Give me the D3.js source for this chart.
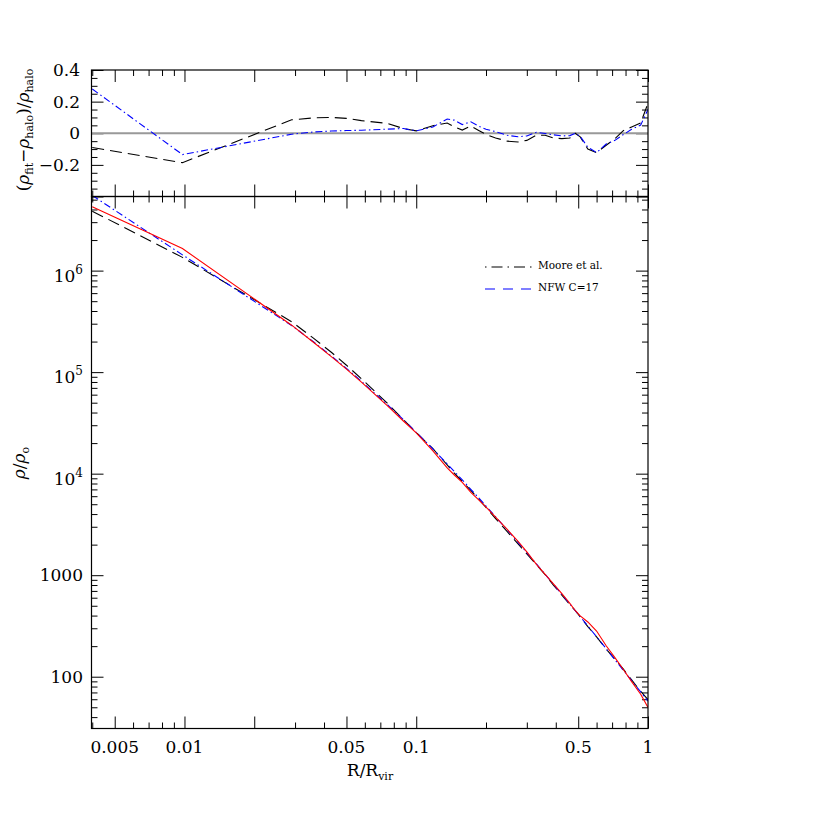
<!DOCTYPE html>
<html><head><meta charset="utf-8">
<script src="https://cdn.jsdelivr.net/npm/d3@7"></script>
<style>body{margin:0;background:#fff}svg{display:block}</style>
</head><body><svg id="c" width="830" height="830"></svg>
<script>
// ---- data ----
const radius   = [0.004, 0.0098, 0.029, 0.036, 0.043, 0.05, 0.058, 0.075, 0.088, 0.1, 0.118, 0.136, 0.146, 0.158, 0.172, 0.186, 0.2, 0.22, 0.247, 0.275, 0.3, 0.33, 0.36, 0.39, 0.425, 0.46, 0.485, 0.51, 0.55, 0.6, 0.66, 0.72, 0.78, 0.85, 0.93, 1.0];
const rhoHalo  = [4.25e6, 1.65e6, 2.90e5, 1.97e5, 1.42e5, 1.07e5, 7.98e4, 4.67e4, 3.30e4, 2.52e4, 1.68e4, 1.14e4, 9.70e3, 8.21e3, 6.55e3, 5.53e3, 4.69e3, 3.73e3, 2.82e3, 2.15e3, 1.70e3, 1.28e3, 1.02e3, 828, 658, 528, 449, 398, 346, 282, 202, 154, 119, 89.4, 67.3, 49.9];
const rhoNFW   = [5.5e6, 1.43e6, 2.88e5, 1.99e5, 1.44e5, 1.09e5, 8.13e4, 4.79e4, 3.40e4, 2.55e4, 1.75e4, 1.25e4, 1.05e4, 8.67e3, 7.02e3, 5.77e3, 4.80e3, 3.76e3, 2.79e3, 2.10e3, 1.67e3, 1.29e3, 1.02e3, 819, 647, 520, 449, 390, 316, 247, 189, 147, 117, 91.7, 70.8, 57.4];
const rhoMoore = [3.85e6, 1.35e6, 3.14e5, 2.16e5, 1.57e5, 1.17e5, 8.61e4, 4.95e4, 3.40e4, 2.55e4, 1.76e4, 1.22e4, 1.01e4, 8.38e3, 6.85e3, 5.62e3, 4.65e3, 3.61e3, 2.68e3, 2.03e3, 1.62e3, 1.27e3, 1.01e3, 803, 636, 512, 449, 389, 312, 247, 187, 149, 120, 93.0, 71.6, 59.4];
const resMoore = [-0.09, -0.186, 0.085, 0.097, 0.1, 0.094, 0.08, 0.062, 0.03, 0.015, 0.048, 0.065, 0.04, 0.02, 0.046, 0.018, -0.008, -0.03, -0.05, -0.055, -0.045, -0.012, -0.013, -0.03, -0.034, -0.03, 0.0, -0.023, -0.1, -0.123, -0.076, -0.035, 0.015, 0.04, 0.065, 0.19];
const resNFW   = [0.28, -0.135, -0.006, 0.008, 0.014, 0.017, 0.019, 0.026, 0.03, 0.015, 0.04, 0.09, 0.083, 0.055, 0.072, 0.045, 0.025, 0.01, -0.013, -0.022, -0.017, 0.006, -0.002, -0.01, -0.017, -0.015, 0.0, -0.02, -0.088, -0.122, -0.068, -0.045, -0.01, 0.025, 0.052, 0.15];

const xDomain = [0.00397, 1];
const resDomain = [-0.4, 0.4];
const rhoDomain = [30.9, 5.37e6];
const xLabelValues = [0.005, 0.01, 0.05, 0.1, 0.5, 1];
const xLabels = ["0.005", "0.01", "0.05", "0.1", "0.5", "1"];
const xMajor = [0.005, 0.01, 0.02, 0.05, 0.1, 0.5, 1];
const resLabelValues = [0.4, 0.2, 0, -0.2];
const resLabels = ["0.4", "0.2", "0", "\u22120.2"];
const rhoLabelValues = [1e6, 1e5, 1e4, 1000, 100];
const rhoLabels = [["10","6"], ["10","5"], ["10","4"], ["1000",""], ["100",""]];
const legendNames = ["Moore et al.", "NFW C=17"];

// ---- layout ----
const L = 91.5, R = 648, T = 70, M = 196.5, B = 728.5;
const FONT = "'DejaVu Serif', serif";
const svg = d3.select("#c");
svg.append("rect").attr("width", 830).attr("height", 830).attr("fill", "#fff");

const x = d3.scaleLog().domain(xDomain).range([L, R]);
const yRes = d3.scaleLinear().domain(resDomain).range([M, T]);
const yRho = d3.scaleLog().domain(rhoDomain).range([B, M]);

const allX = x.ticks().filter(v => v >= xDomain[0] && v <= 1.0001);
const xMinor = allX.filter(v => !xMajor.some(m => Math.abs(m - v) / m < 1e-6));
const resAll = d3.range(-8, 9).map(i => i * 0.05);
const resMaj = [-0.4, -0.2, 0, 0.2, 0.4];
const resMin = resAll.filter(v => !resMaj.some(m => Math.abs(m - v) < 1e-6));
const rhoAll = yRho.ticks();
const rhoMaj = rhoAll.filter(v => Math.abs(Math.log10(v) - Math.round(Math.log10(v))) < 1e-6);
const rhoMin = rhoAll.filter(v => !rhoMaj.includes(v));

function tickG(axisFn, scale, vals, len, tx, ty) {
  const g = svg.append("g").attr("transform", `translate(${tx},${ty})`)
    .call(axisFn(scale).tickValues(vals).tickSize(-len).tickFormat(""));
  g.select(".domain").remove();
  g.selectAll("line").attr("stroke", "#000").attr("stroke-width", 1);
}
[[d3.axisTop, T], [d3.axisBottom, M], [d3.axisTop, M], [d3.axisBottom, B]].forEach(([fn, yy]) => {
  tickG(fn, x, xMajor, 12, 0, yy);
  tickG(fn, x, xMinor, 6, 0, yy);
});
tickG(d3.axisLeft, yRes, resMaj, 12, L, 0);
tickG(d3.axisLeft, yRes, resMin, 6, L, 0);
tickG(d3.axisRight, yRes, resMaj, 12, R, 0);
tickG(d3.axisRight, yRes, resMin, 6, R, 0);
tickG(d3.axisLeft, yRho, rhoMaj, 12, L, 0);
tickG(d3.axisLeft, yRho, rhoMin, 6, L, 0);
tickG(d3.axisRight, yRho, rhoMaj, 12, R, 0);
tickG(d3.axisRight, yRho, rhoMin, 6, R, 0);

const defs = svg.append("defs");
defs.append("clipPath").attr("id", "clipTop").append("rect").attr("x", L).attr("y", T).attr("width", R - L).attr("height", M - T);
defs.append("clipPath").attr("id", "clipBot").append("rect").attr("x", L).attr("y", M).attr("width", R - L).attr("height", B - M);

svg.append("line").attr("x1", L).attr("x2", R).attr("y1", yRes(0)).attr("y2", yRes(0))
  .attr("stroke", "#999").attr("stroke-width", 2);

const dashBlack = "12,6";
const dashBlue = "7,3,1.5,3";

function drawLine(clip, ys, scaleY, color, dash) {
  const line = d3.line().x((d, i) => x(radius[i])).y(d => scaleY(d));
  svg.append("path").attr("clip-path", `url(#${clip})`).datum(ys)
    .attr("d", line).attr("fill", "none").attr("stroke", color).attr("stroke-width", 1.1)
    .attr("stroke-dasharray", dash || null);
}
drawLine("clipTop", resMoore, yRes, "#000", dashBlack);
drawLine("clipTop", resNFW, yRes, "#0000ff", dashBlue);
drawLine("clipBot", rhoMoore, yRho, "#000", dashBlack);
drawLine("clipBot", rhoNFW, yRho, "#0000ff", dashBlue);
drawLine("clipBot", rhoHalo, yRho, "#ff0000", null);

svg.append("rect").attr("x", L).attr("y", T).attr("width", R - L).attr("height", M - T)
  .attr("fill", "none").attr("stroke", "#000").attr("stroke-width", 1.2);
svg.append("rect").attr("x", L).attr("y", M).attr("width", R - L).attr("height", B - M)
  .attr("fill", "none").attr("stroke", "#000").attr("stroke-width", 1.2);

const fs = 17;
xLabelValues.forEach((v, i) => {
  svg.append("text").attr("x", x(v)).attr("y", 753).attr("text-anchor", "middle")
    .attr("font-family", FONT).attr("font-size", fs).text(xLabels[i]);
});
resLabelValues.forEach((v, i) => {
  svg.append("text").attr("x", 80).attr("y", yRes(v) + 6).attr("text-anchor", "end")
    .attr("font-family", FONT).attr("font-size", fs).text(resLabels[i]);
});
rhoLabelValues.forEach((v, i) => {
  const [base, exp] = rhoLabels[i];
  const t = svg.append("text").attr("x", 83).attr("y", yRho(v) + (exp ? 11 : 6)).attr("text-anchor", "end")
    .attr("font-family", FONT).attr("font-size", fs);
  t.append("tspan").text(base);
  if (exp) t.append("tspan").attr("font-size", 12).attr("dy", -8).text(exp);
});

const xt = svg.append("text").attr("x", 370).attr("y", 776).attr("text-anchor", "middle")
  .attr("font-family", FONT).attr("font-size", fs);
xt.append("tspan").text("R/R");
xt.append("tspan").attr("font-size", 11).attr("dy", 4).text("vir");

const yt1 = svg.append("text").attr("transform", "translate(29,130) rotate(-90)").attr("text-anchor", "middle")
  .attr("font-family", FONT).attr("font-size", fs);
yt1.append("tspan").text("(");
yt1.append("tspan").attr("font-style", "italic").text("\u03C1");
yt1.append("tspan").attr("font-size", 11).attr("dy", 4).text("fit");
yt1.append("tspan").attr("dy", -4).text("\u2212");
yt1.append("tspan").attr("font-style", "italic").text("\u03C1");
yt1.append("tspan").attr("font-size", 11).attr("dy", 4).text("halo");
yt1.append("tspan").attr("dy", -4).text(")/");
yt1.append("tspan").attr("font-style", "italic").text("\u03C1");
yt1.append("tspan").attr("font-size", 11).attr("dy", 4).text("halo");

const yt2 = svg.append("text").attr("transform", "translate(25,463) rotate(-90)").attr("text-anchor", "middle")
  .attr("font-family", FONT).attr("font-size", fs);
yt2.append("tspan").attr("font-style", "italic").text("\u03C1");
yt2.append("tspan").text("/");
yt2.append("tspan").attr("font-style", "italic").text("\u03C1");
yt2.append("tspan").attr("font-size", 11).attr("dy", 4).text("o");

const legY = [267, 289];
svg.append("line").attr("x1", 485).attr("x2", 533).attr("y1", legY[0]).attr("y2", legY[0])
  .attr("stroke", "#000").attr("stroke-width", 1.1).attr("stroke-dasharray", "1.5,5,11,5");
svg.append("line").attr("x1", 485).attr("x2", 533).attr("y1", legY[1]).attr("y2", legY[1])
  .attr("stroke", "#0000ff").attr("stroke-width", 1.1).attr("stroke-dasharray", "10,8");
legendNames.forEach((n, i) => {
  svg.append("text").attr("x", 538).attr("y", legY[i] + 2).attr("font-family", FONT)
    .attr("font-size", 10.5).text(n);
});
</script></body></html>
